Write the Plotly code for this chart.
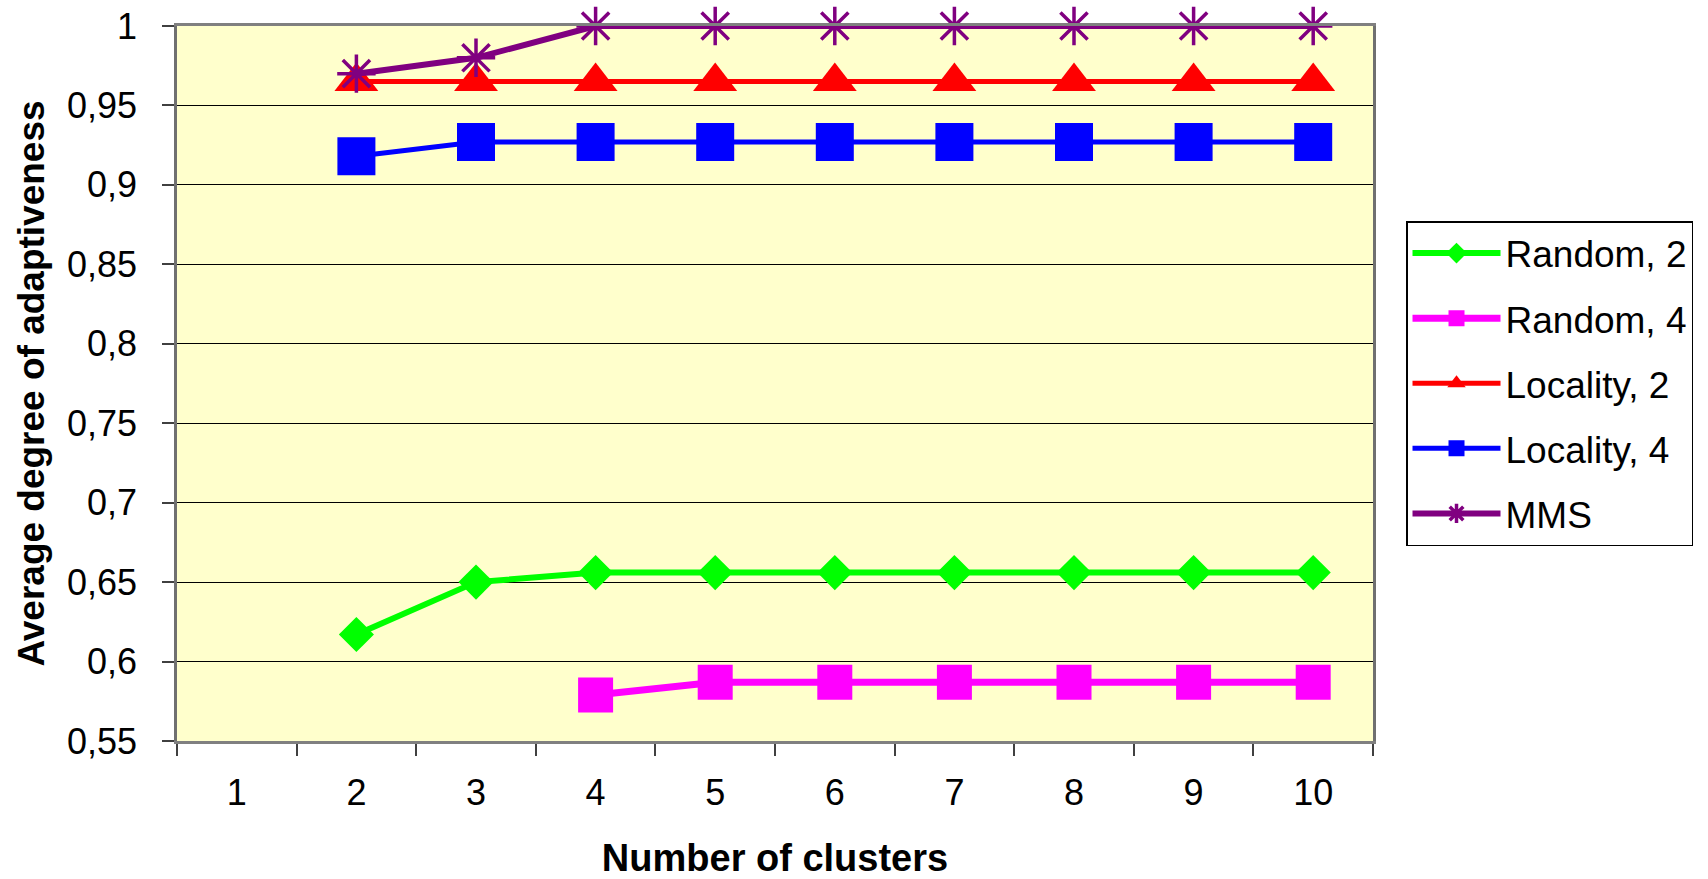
import plotly.graph_objects as go

# Number of clusters (category axis)
clusters = ["1", "2", "3", "4", "5", "6", "7", "8", "9", "10"]

# Average degree of adaptiveness per strategy
random_2 = [None, 0.617, 0.650, 0.656, 0.656, 0.656, 0.656, 0.656, 0.656, 0.656]
random_4 = [None, None, None, 0.579, 0.587, 0.587, 0.587, 0.587, 0.587, 0.587]
locality_2 = [None, 0.965, 0.965, 0.965, 0.965, 0.965, 0.965, 0.965, 0.965, 0.965]
locality_4 = [None, 0.918, 0.927, 0.927, 0.927, 0.927, 0.927, 0.927, 0.927, 0.927]
mms = [None, 0.970, 0.980, 1.0, 1.0, 1.0, 1.0, 1.0, 1.0, 1.0]

FONT = "Liberation Sans, Arial, sans-serif"

series = [
    ("Random, 2", random_2, "#00FF00", "diamond", 27, 6),
    ("Random, 4", random_4, "#FF00FF", "square", 35, 7),
    ("Locality, 2", locality_2, "#FF0000", "triangle-up", 38, 5),
    ("Locality, 4", locality_4, "#0000FF", "square", 38, 5),
    ("MMS", mms, "#800080", "asterisk", 32, 6),
]

fig = go.Figure()
for i, (name, vals, color, symbol, msize, lw) in enumerate(series):
    marker = dict(symbol=symbol, size=msize, color=color)
    if symbol == "asterisk":
        marker["line"] = dict(color=color, width=3.5)
    else:
        marker["line"] = dict(width=0)
    fig.add_trace(go.Scatter(
        x=clusters, y=vals, name=name, mode="lines+markers",
        line=dict(color=color, width=lw),
        marker=marker,
        cliponaxis=False,
        legendgroup=f"g{i}",
    ))

fig.update_layout(
    width=1708, height=879,
    margin=dict(l=177, r=335, t=26, b=138),
    paper_bgcolor="white",
    plot_bgcolor="#FFFFCC",
    separators=",.",
    font=dict(family=FONT, size=36, color="black"),
    showlegend=True,
    legend=dict(
        x=1.0276, xanchor="left",
        y=0.5, yanchor="middle",
        bgcolor="white", bordercolor="#000000", borderwidth=1.5,
        font=dict(family=FONT, size=37, color="black"),
        itemwidth=88, tracegroupgap=14, traceorder="grouped",
        itemsizing="trace",
    ),
    xaxis=dict(
        type="category", categoryorder="array", categoryarray=clusters,
        range=[-0.5, 9.5], automargin=False,
        tickson="boundaries", ticks="outside", ticklen=12, tickwidth=1.5,
        tickcolor="#404040",
        showline=True, linecolor="#808080", linewidth=2.5, mirror=True,
        showgrid=False, zeroline=False,
        ticklabelstandoff=18,
        tickfont=dict(family=FONT, size=36, color="black"),
        title=dict(text="<b>Number of clusters</b>", standoff=42,
                   font=dict(family=FONT, size=38, color="black")),
    ),
    yaxis=dict(
        range=[0.55, 1.0], dtick=0.05, tick0=0.55, automargin=False,
        ticks="outside", ticklen=12, tickwidth=1.5, tickcolor="#404040",
        showline=True, linecolor="#707070", linewidth=2.5, mirror=True,
        showgrid=True, gridcolor="#000000", gridwidth=1,
        zeroline=False,
        ticklabelstandoff=18,
        tickfont=dict(family=FONT, size=36, color="black"),
        title=dict(text="<b>Average degree of adaptiveness</b>", standoff=12,
                   font=dict(family=FONT, size=37, color="black")),
    ),
)

fig.write_html("out.html")
